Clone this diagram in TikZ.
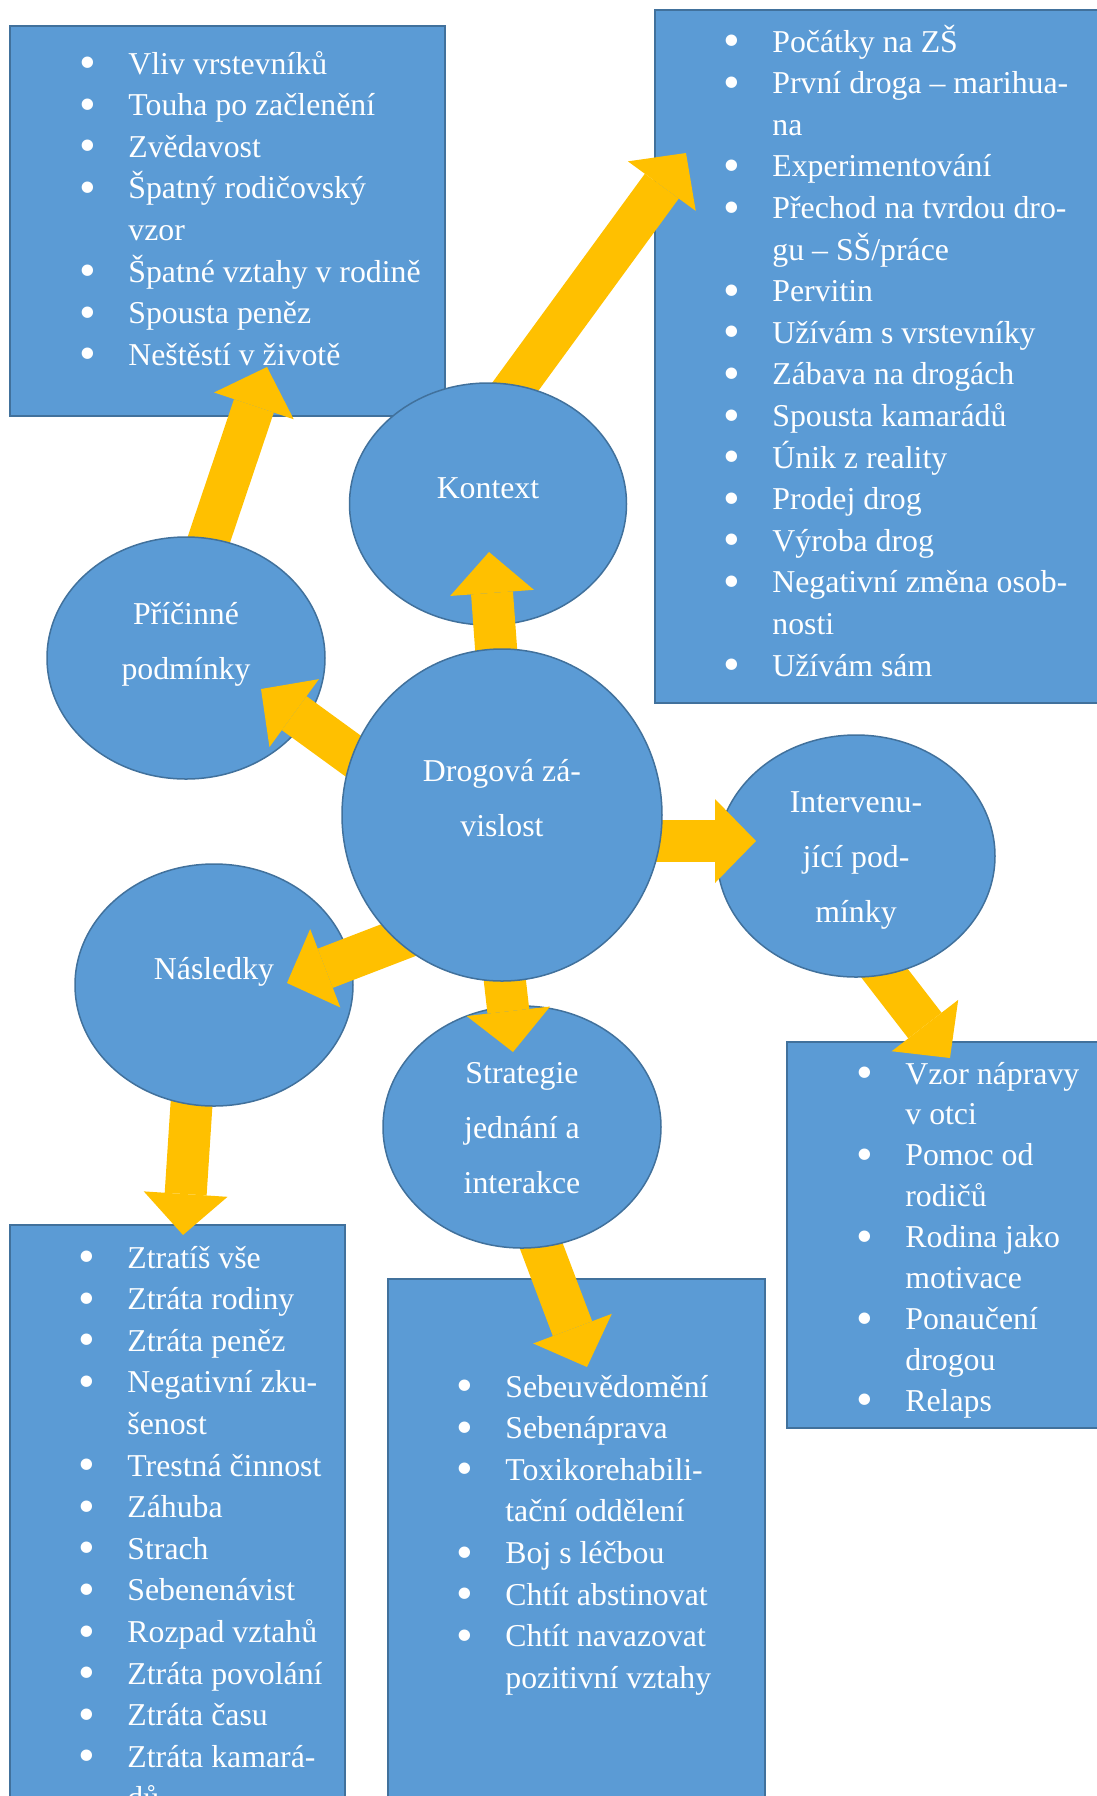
\documentclass[tikz,border=0pt]{standalone}
\usepackage{fontspec}
\setmainfont{Liberation Serif}
\usetikzlibrary{shapes.geometric,arrows.meta,calc}

\definecolor{fillblue}{HTML}{5B9BD5}
\definecolor{lineblue}{HTML}{41719C}
\definecolor{gold}{HTML}{FFC000}

\pgfdeclarelayer{boxes}
\pgfdeclarelayer{boxarrows}
\pgfdeclarelayer{bubbles}
\pgfdeclarelayer{drogarrows}
\pgfsetlayers{boxes,boxarrows,bubbles,drogarrows,main}

\tikzset{
  bubble/.style={ellipse, draw=lineblue, fill=fillblue, line width=0.75pt, inner sep=0pt,
    text=white, minimum width=139pt, minimum height=121pt, font=\fontsize{15.9}{27.5}\selectfont},
  listbox/.style={draw=lineblue, fill=fillblue, line width=0.75pt, anchor=north west,
    inner sep=0pt, outer sep=0pt},
  items/.style={anchor=base west, inner sep=0pt, text=white, font=\fontsize{15.9}{20.8}\selectfont},
  goldarrow/.style={draw=gold, line width=21pt, -{Triangle[length=20.5pt,width=42pt,line width=0pt]}}
}

\newcommand{\bul}{\llap{\makebox[0pt]{\raisebox{-0.15em}[0pt][0pt]{\scalebox{1.5}{\textbullet}}}\hspace{20.5pt}}}
\newcommand{\bub}[2][0pt]{\raisebox{#1}[\height][\depth]{\begin{tabular}{@{}c@{}}#2\end{tabular}}}

\begin{document}
\begin{tikzpicture}[x=0.5pt, y=-0.5pt]
\useasboundingbox (0,0) rectangle (1097,1796);

% boxes with the lists
\begin{pgfonlayer}{boxes}
\node[listbox, minimum width=217.5pt, minimum height=195pt] (pricbox) at (10,26) {};
\node[listbox, minimum width=227.5pt, minimum height=346.5pt] (kontbox) at (655,10) {};
\node[listbox, minimum width=161.5pt, minimum height=193pt] (intbox) at (787,1042) {};
\node[listbox, minimum width=167.5pt, minimum height=292.5pt] (naslbox) at (10,1225) {};
\node[listbox, minimum width=188.5pt, minimum height=265.5pt] (stratbox) at (388,1279) {};

\node[items] (priclist) at (128,74) {\begin{tabular}[t]{@{}l@{}}
\bul Vliv vrstevníků\\
\bul Touha po začlenění\\
\bul Zvědavost\\
\bul Špatný rodičovský\\
vzor\\
\bul Špatné vztahy v rodině\\
\bul Spousta peněz\\
\bul Neštěstí v životě
\end{tabular}};

\node[items] (kontlist) at (772,52) {\begin{tabular}[t]{@{}l@{}}
\bul Počátky na ZŠ\\
\bul První droga – marihua-\\
na\\
\bul Experimentování\\
\bul Přechod na tvrdou dro-\\
gu – SŠ/práce\\
\bul Pervitin\\
\bul Užívám s vrstevníky\\
\bul Zábava na drogách\\
\bul Spousta kamarádů\\
\bul Únik z reality\\
\bul Prodej drog\\
\bul Výroba drog\\
\bul Negativní změna osob-\\
nosti\\
\bul Užívám sám
\end{tabular}};

\node[items, font=\fontsize{15.9}{20.45}\selectfont] (intlist) at (905,1084) {\begin{tabular}[t]{@{}l@{}}
\bul Vzor nápravy\\
v otci\\
\bul Pomoc od\\
rodičů\\
\bul Rodina jako\\
motivace\\
\bul Ponaučení\\
drogou\\
\bul Relaps
\end{tabular}};

\node[items] (nasllist) at (127,1268) {\begin{tabular}[t]{@{}l@{}}
\bul Ztratíš vše\\
\bul Ztráta rodiny\\
\bul Ztráta peněz\\
\bul Negativní zku-\\
šenost\\
\bul Trestná činnost\\
\bul Záhuba\\
\bul Strach\\
\bul Sebenenávist\\
\bul Rozpad vztahů\\
\bul Ztráta povolání\\
\bul Ztráta času\\
\bul Ztráta kamará-\\
dů
\end{tabular}};

\node[items] (stratlist) at (505,1397) {\begin{tabular}[t]{@{}l@{}}
\bul Sebeuvědomění\\
\bul Sebenáprava\\
\bul Toxikorehabili-\\
tační oddělení\\
\bul Boj s léčbou\\
\bul Chtít abstinovat\\
\bul Chtít navazovat\\
pozitivní vztahy
\end{tabular}};
\end{pgfonlayer}

% the five categories
\begin{pgfonlayer}{bubbles}
\node[bubble, minimum width=138.5pt] (kont) at (488,504) {\bub[8.5pt]{Kontext}};
\node[bubble] (pric) at (186,658) {\bub[8.5pt]{Příčinné\\podmínky}};
\node[bubble] (interv) at (856,856) {\bub{Intervenu-\\jící pod-\\mínky}};
\node[bubble] (nasl) at (214,985) {\bub[8.5pt]{Následky}};
\node[bubble] (strat) at (522,1127) {\bub{Strategie\\jednání a\\interakce}};
\end{pgfonlayer}

\node[bubble, minimum width=160pt, minimum height=166pt] (drog) at (502,815) {\bub[8.5pt]{Drogová zá-\\vislost}};

% arrows out of the centre
\begin{pgfonlayer}{drogarrows}
\draw[goldarrow] ($(drog)+(-2,-113)$) -- ($(kont)+(1,48)$);
\draw[goldarrow] ($(drog)+(-120,-38)$) -- ($(pric)+(75,31)$);
\draw[goldarrow] ($(drog)+(98,26)$) -- ($(interv)+(-100,-15)$);
\draw[goldarrow] ($(drog)+(-28,96)$) -- ($(nasl)+(73,-2)$);
\draw[goldarrow] ($(drog)+(-6,88)$) -- ($(strat)+(-9,-75)$);
\end{pgfonlayer}

% arrows to the lists
\begin{pgfonlayer}{boxarrows}
\draw[goldarrow] ($(kont)+(3,-84)$) -- ($(kontbox.north west)+(31,143)$);
\draw[goldarrow] ($(pric)+(17,-101)$) -- ($(pricbox.north west)+(257,341)$);
\draw[goldarrow] ($(interv)+(-28,44)$) -- ($(intbox.north west)+(163,16)$);
\draw[goldarrow] ($(nasl)+(-18,50)$) -- ($(naslbox.north west)+(173,10)$);
\draw[goldarrow] ($(strat)+(-6,52)$) -- ($(stratbox.north west)+(199,88)$);
\end{pgfonlayer}

\end{tikzpicture}
\end{document}
